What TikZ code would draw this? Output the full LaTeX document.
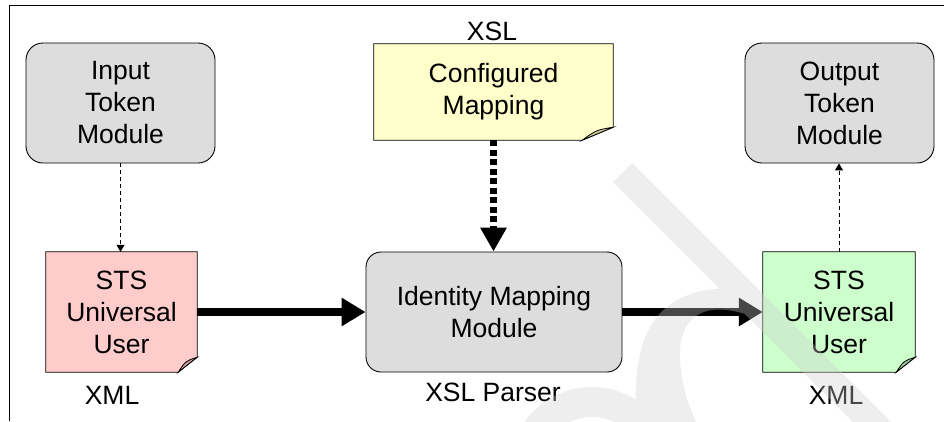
\documentclass[tikz,border=0pt]{standalone}
\usepackage{fontspec}
\setmainfont{Liberation Sans}
\usetikzlibrary{arrows.meta,calc,backgrounds}
\definecolor{boxgray}{HTML}{DDDDDD}
\definecolor{notered}{HTML}{FFCCCC}
\definecolor{foldred}{HTML}{CC9999}
\definecolor{noteyel}{HTML}{FFFFCC}
\definecolor{foldyel}{HTML}{CCCC99}
\definecolor{notegrn}{HTML}{CCFFCC}
\definecolor{foldgrn}{HTML}{99CC99}
% #1 node, #2 fill, #3 fold fill, #4 fold width, #5 fold height
\newcommand\drawnote[5]{%
  \draw[line width=0.8pt, fill=#2] (#1.north west) -- (#1.north east) -- ([yshift=#5]#1.south east) -- ([xshift=-#4]#1.south east) -- (#1.south west) -- cycle;
  \draw[line width=0.8pt, fill=#3] ([xshift=-#4]#1.south east) .. controls ($([xshift=-#4]#1.south east)!0.55!([yshift=#5]#1.south east)+(-3pt,3pt)$) .. ([yshift=#5]#1.south east) -- cycle;
}
\begin{document}
\begin{tikzpicture}[x=1pt,y=-1pt,
  lbl/.style={font=\fontsize{26.5}{32}\selectfont, inner sep=0pt, align=center},
  modbox/.style={lbl, draw=black, line width=0.9pt, fill=boxgray, rounded corners=17pt},
  notebox/.style={lbl},
  thinarrow/.style={line width=1pt, dash pattern=on 4pt off 3pt, -{Triangle[length=7pt,width=8pt]}},
  thickarrow/.style={line width=8pt, -{Triangle[length=24pt,width=27pt]}},
  thickdash/.style={line width=7pt, dash pattern=on 6pt off 3.5pt, -{Triangle[length=24pt,width=25pt]}},
  wmark/.style={black!19}
]
\useasboundingbox (0,0) rectangle (944,421);
% frame
\draw[line width=1pt] (944,5) -- (9,5) -- (9,421);

% modules
\node[modbox, minimum width=189pt, minimum height=120pt] (inp) at (120.5,103) {Input\\Token\\Module};
\node[modbox, minimum width=189pt, minimum height=120pt] (out) at (839.5,103) {Output\\Token\\Module};
\node[modbox, rounded corners=15pt, minimum width=256pt, minimum height=120pt] (idm) at (494,312) {Identity Mapping\\Module};

% notes
\node[notebox, minimum width=151pt, minimum height=120pt] (red) at (121.5,312) {STS\\Universal\\User};
\node[notebox, minimum width=239pt, minimum height=96pt] (cfg) at (493.5,92) {Configured\\Mapping};
\node[notebox, minimum width=152pt, minimum height=120pt] (grn) at (839,312) {STS\\Universal\\User};
\begin{scope}[on background layer]
  \drawnote{red}{notered}{foldred}{19pt}{15pt}
  \drawnote{cfg}{noteyel}{foldyel}{31pt}{13pt}
  \drawnote{grn}{notegrn}{foldgrn}{19pt}{15pt}
\end{scope}

% labels
\node[lbl] (xsltop) at (492,31) {XSL};
\node[lbl] (xmlleft) at (112,395) {XML};
\node[lbl] (xslpar) at (493,392) {XSL Parser};
\node[lbl] (xmlright) at (836,395) {XML};

% connectors
\draw[thinarrow] (inp.south) -- (inp.south |- red.north);
\draw[thinarrow] (grn.north) -- (grn.north |- out.south);
\draw[thickdash] (cfg.south) -- (cfg.south |- idm.north);
\draw[thickarrow] (red.east) -- (idm.west);
\draw[thickarrow] (idm.east) -- (grn.west);

% watermark
\begin{scope}[transparency group, opacity=0.345]
  \clip (0,0) rectangle (944,421);
  \draw[wmark, line width=27pt] (622.5,172.5) -- (960,510);
  \fill[wmark] (637,430) .. controls (630,340) and (650,292) .. (725,288) -- (745,314)
     .. controls (700,300) and (678,320) .. (680,360)
     .. controls (682,390) and (690,410) .. (700,430) -- cycle;
  \draw[wmark, line width=30pt] (660,470) arc[start angle=0, end angle=180, radius=68pt];
\end{scope}
\end{tikzpicture}
\end{document}
